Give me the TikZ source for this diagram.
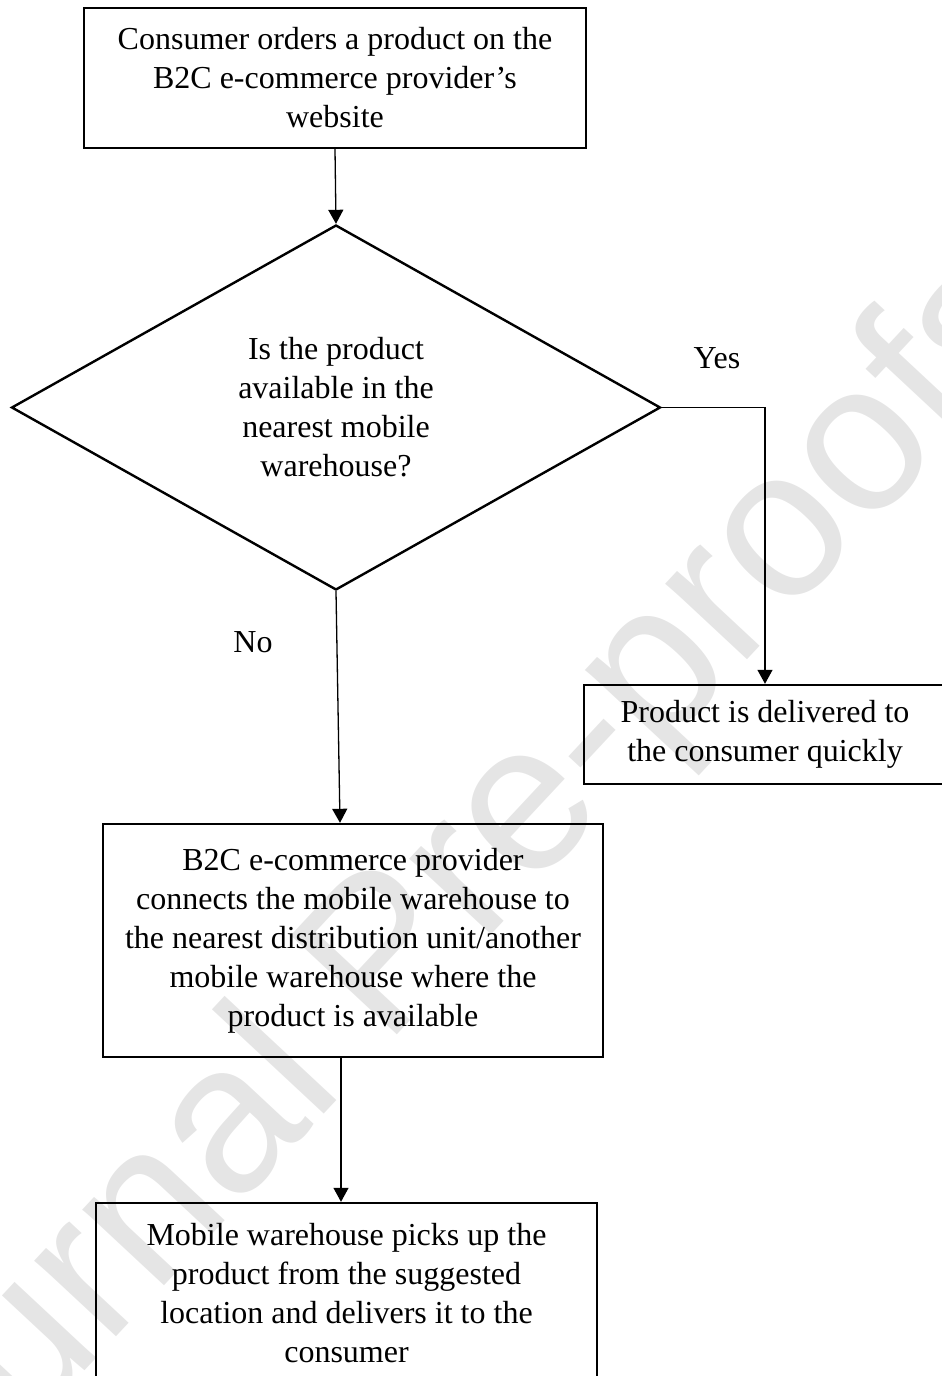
\documentclass[tikz,border=0pt]{standalone}
\usepackage{fontspec}
\setmainfont{Liberation Serif}
\newfontfamily\wmfont{Liberation Sans}
\usetikzlibrary{shapes.geometric,arrows.meta}
\begin{document}
\begin{tikzpicture}[x=1pt,y=-1pt,
  txt/.style={font=\fontsize{32}{39}\selectfont, align=center},
  procbox/.style={txt, draw, line width=2.4pt, rectangle, inner sep=0pt},
  decision/.style={txt, draw, line width=2.4pt, diamond, aspect=1.78, inner sep=0pt},
  conn/.style={line width=1.3pt, -{Triangle[width=15pt,length=14pt]}},
  lbl/.style={font=\fontsize{32}{39}\selectfont},
  wm/.style={font=\wmfont\fontsize{211}{211}\selectfont, text=black!10}
]
\useasboundingbox (0,0) rectangle (942,1376);
\node[wm, rotate=47, anchor=base] (wmark) at (466,962) {Journal Pre-proofs};

\node[procbox, minimum width=502pt, minimum height=140pt] (top) at (335,78)
  {Consumer orders a product on the\\B2C e-commerce provider’s\\website};
\node[decision, minimum width=649pt, minimum height=365pt] (dia) at (336,407.5)
  {Is the product\\available in the\\nearest mobile\\warehouse?};
\node[procbox, minimum width=362pt, minimum height=99pt] (right) at (765,734.5)
  {Product is delivered to\\the consumer quickly};
\node[procbox, minimum width=500pt, minimum height=233pt] (mid) at (353,940.5)
  {B2C e-commerce provider\\connects the mobile warehouse to\\the nearest distribution unit/another\\mobile warehouse where the\\product is available};
\node[procbox, minimum width=501pt, minimum height=180pt] (bot) at (346.5,1293)
  {Mobile warehouse picks up the\\product from the suggested\\location and delivers it to the\\consumer};

\node[lbl] (yes) at (717,358) {Yes};
\node[lbl] (no) at (253,642) {No};

\draw[conn] (top.south) -- (dia.north);
\draw[conn] (dia.east) -| (right.north);
\draw[conn] (dia.south) -- ([xshift=-13pt]mid.north);
\draw[conn] ([xshift=-12pt]mid.south) -- ([xshift=-12pt]mid.south |- bot.north);
\end{tikzpicture}
\end{document}
